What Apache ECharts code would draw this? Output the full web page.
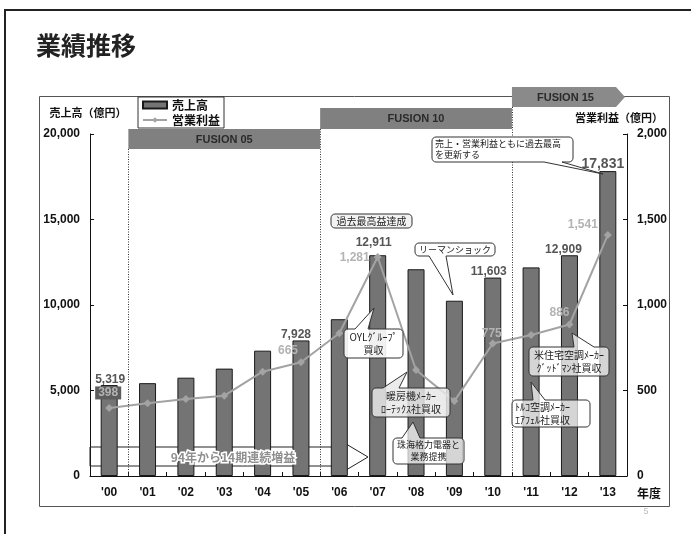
<!DOCTYPE html>
<html><head><meta charset="utf-8">
<script src="https://cdn.jsdelivr.net/npm/echarts@6/dist/echarts.min.js"></script>
<style>html,body{margin:0;padding:0;background:#fff}#c{width:691px;height:534px}</style>
</head><body><div id="c"></div>
<script>
// ---- data ----
const years = ["'00","'01","'02","'03","'04","'05","'06","'07","'08","'09","'10","'11","'12","'13"];
const sales = [5319, 5430, 5750, 6280, 7330, 7928, 9170, 12911, 12090, 10250, 11603, 12200, 12909, 17831];
const profit = [398, 425, 450, 470, 610, 665, 835, 1281, 620, 438, 775, 825, 886, 1410];
const salesLabels = ['5,319','','','','','7,928','','12,911','','','11,603','','12,909','17,831'];
const profitLabels = ['398','','','','','665','','1,281','','','775','','886','1,541'];
const leftAxisRange = [0, 20000, 5000];
const rightAxisRange = [0, 2000, 500];
const phases = [
  {name:'FUSION 05', from:1, to:6},
  {name:'FUSION 10', from:6, to:11},
  {name:'FUSION 15', from:11, to:14}
];

// ---- styles ----
const FONT = "'Liberation Sans','Noto Sans CJK JP',sans-serif";
const JFONT = "'Noto Sans CJK JP','Liberation Sans',sans-serif";
const salesLabelStyle = {0:[1,1,12],5:[-5,0,12],7:[-4,-7,12],10:[-4,0,12],12:[-6,0,12],13:[-5,0,14]};
const profitLabelStyle = {0:[-1,-15],5:[-13,-12],7:[-23,1],10:[-1,-10],12:[-10,-12],13:[-25,-10]};

const chart = echarts.init(document.getElementById('c'), null, {renderer:'canvas'});

const salesData = sales.map((v,i)=>{
  const s = salesLabelStyle[i];
  return {value:v, label: s ? {show:true, position:'top', distance:0, offset:[s[0],s[1]], fontSize:s[2],
    formatter: ()=>salesLabels[i]} : {show:false}};
});
const profitData = profit.map((v,i)=>{
  const s = profitLabelStyle[i];
  const lbl = s ? {show:true, position:'inside', offset:[s[0],s[1]], formatter: ()=>profitLabels[i]} : {show:false};
  if (i===0 && s) { lbl.backgroundColor = '#5c5c5c'; lbl.padding = [1,3,0,3]; }
  return {value:v, label: lbl};
});

const axisLab = {color:'#111', fontWeight:'bold', fontSize:12, fontFamily:FONT};

chart.setOption({
  animation:false,
  backgroundColor:'#fff',
  grid:{left:90, right:64, top:134, bottom:58},
  legend:{
    left:138, top:97, orient:'vertical', padding:[2,4,2,4], itemGap:3,
    itemWidth:24, itemHeight:7, borderColor:'#333', borderWidth:1, backgroundColor:'#fff',
    textStyle:{fontWeight:'bold', fontSize:12, color:'#111', fontFamily:JFONT},
    data:[{name:'売上高', icon:'rect'}, {name:'営業利益'}]
  },
  xAxis:{
    type:'category', data:years, boundaryGap:true,
    axisLine:{lineStyle:{color:'#111', width:1}},
    axisTick:{show:true, inside:true, length:4, lineStyle:{color:'#111'}},
    axisLabel:Object.assign({margin:11}, axisLab)
  },
  yAxis:[
    {type:'value', position:'left', min:leftAxisRange[0], max:leftAxisRange[1], interval:leftAxisRange[2],
     axisLine:{show:true, lineStyle:{color:'#111'}},
     axisTick:{show:true, inside:true, length:4, lineStyle:{color:'#111'}},
     splitLine:{show:false}, axisLabel:Object.assign({margin:10}, axisLab)},
    {type:'value', position:'right', min:rightAxisRange[0], max:rightAxisRange[1], interval:rightAxisRange[2],
     axisLine:{show:true, lineStyle:{color:'#111'}},
     axisTick:{show:true, inside:true, length:4, lineStyle:{color:'#111'}},
     splitLine:{show:false}, axisLabel:Object.assign({margin:10}, axisLab)}
  ],
  series:[
    {name:'売上高', type:'bar', data:salesData, barWidth:17, z:3,
     itemStyle:{color:'#747474', borderColor:'#1a1a1a', borderWidth:1},
     label:{color:'#555', fontWeight:'bold', fontFamily:FONT}},
    {name:'営業利益', type:'line', yAxisIndex:1, data:profitData, z:4,
     symbol:'diamond', symbolSize:8,
     lineStyle:{color:'#a3a3a3', width:2}, itemStyle:{color:'#a3a3a3'},
     label:{color:'#b3b3b3', fontWeight:'bold', fontSize:12, fontFamily:FONT}}
  ]
});

// ---- overlay graphics ----
const xc = i => chart.convertToPixel({xAxisIndex:0}, i);
const step = xc(1) - xc(0);
const bnd = i => xc(0) + (i - 0.5) * step;
const y0 = chart.convertToPixel({yAxisIndex:0}, 0);

function txt(text, x, y, font, fill, align, extra){
  return {type:'text', z:30, style:Object.assign({text, x, y, font, fill:fill||'#111',
    align:align||'center', verticalAlign:'middle', textAlign:align||'center', textVerticalAlign:'middle'}, extra||{})};
}
function arcPts(cx,cy,r,a0,a1){
  const pts=[]; const n=4;
  for(let k=0;k<=n;k++){const a=a0+(a1-a0)*k/n; pts.push([cx+r*Math.cos(a), cy+r*Math.sin(a)]);}
  return pts;
}
function calloutPoints(x,y,w,h,r,tail,side){
  const P=[]; const PI=Math.PI;
  P.push(...arcPts(x+r,y+r,r,PI,1.5*PI));
  if(side==='top'){ const [x1,x2,ax,ay]=tail; P.push([x1,y],[ax,ay],[x2,y]); }
  P.push(...arcPts(x+w-r,y+r,r,1.5*PI,2*PI));
  P.push(...arcPts(x+w-r,y+h-r,r,0,0.5*PI));
  if(side==='bottom'){ const [x1,x2,ax,ay]=tail; P.push([x2,y+h],[ax,ay],[x1,y+h]); }
  P.push(...arcPts(x+r,y+h-r,r,0.5*PI,PI));
  return P;
}
function callout(c){
  const els=[];
  els.push({type:'polygon', z:25, shape:{points:calloutPoints(c.x,c.y,c.w,c.h,4,c.tail,c.side)},
    style:{fill:c.fill||'rgba(255,255,255,0.75)', stroke:'#333', lineWidth:1}});
  const n=c.lines.length, lh=c.lh||12;
  c.lines.forEach((t,k)=>{
    const ty = c.y + c.h/2 + (k-(n-1)/2)*lh;
    const tx = c.align==='left' ? c.x+3 : c.x+c.w/2;
    els.push(txt(t, tx, ty, (c.size||9)+'px '+JFONT, '#222', c.align||'center'));
  });
  return els;
}

const G=[];
// outer slide frame
G.push({type:'line', z:1, shape:{x1:4,y1:10,x2:691,y2:10}, style:{stroke:'#222', lineWidth:2}});
G.push({type:'line', z:1, shape:{x1:5,y1:9,x2:5,y2:534}, style:{stroke:'#222', lineWidth:2}});
// inner chart frame
G.push({type:'rect', z:1, shape:{x:39.5,y:96.5,width:630,height:410}, style:{fill:null, stroke:'#555', lineWidth:1}});
// title
G.push(txt('業績推移', 36, 45, 'bold 25px '+JFONT, '#222', 'left'));
// axis titles
G.push(txt('売上高（億円）', 88, 113, 'bold 11px '+JFONT, '#111', 'center'));
G.push(txt('営業利益（億円）', 619, 118, 'bold 11px '+JFONT, '#111', 'center'));
G.push(txt('年度', 649, 493, 'bold 12px '+JFONT, '#111', 'center'));
G.push(txt('5', 646, 512, '9px '+FONT, '#bbb', 'center'));

// phase banners + dotted dividers
const bannerY = [[129,149],[108,129],[87,107]];
phases.forEach((ph,k)=>{
  const xa = bnd(ph.from), xb = Math.min(bnd(ph.to), xc(13)+step/2);
  const [ya,yb] = bannerY[k];
  if(k<2){
    G.push({type:'rect', z:20, shape:{x:xa,y:ya,width:xb-xa,height:yb-ya}, style:{fill:'#808080'}});
  } else {
    const tip = xb - 2, body = tip - 9;
    G.push({type:'polygon', z:20, shape:{points:[[xa,ya],[body,ya],[tip,(ya+yb)/2],[body,yb],[xa,yb]]}, style:{fill:'#8a8a8a'}});
  }
  G.push(txt(ph.name, (xa+(k<2?xb:xb-8))/2, (ya+yb)/2+0.5, 'bold 11px '+FONT, '#2a2a2a', 'center'));
  G.push({type:'line', z:5, shape:{x1:Math.round(xa)+0.5, y1:yb, x2:Math.round(xa)+0.5, y2:y0}, style:{stroke:'#333', lineWidth:1, lineDash:[1,1.5]}});
});

// 14-period growth arrow
const ax0 = xc(0) - step/2;
G.push({type:'polygon', z:1, shape:{points:[[ax0,447],[336,447],[336,438],[368,457],[336,476],[336,466],[ax0,466]]},
  style:{fill:null, stroke:'#222', lineWidth:1}});
G.push(txt('94年から14期連続増益', 233, 457, 'bold 12px '+JFONT, '#8f8f8f', 'center', {stroke:'#fff', lineWidth:3, strokeFirst:true}));

// callouts
const callouts = [
  {x:331,y:214,w:81,h:14,lines:['過去最高益達成'],size:10,fill:'#f2f2f2'},
  {x:415,y:243,w:80,h:13,lines:['リーマンショック'],tail:[429,446,453,295],side:'bottom',fill:'#fff'},
  {x:432,y:137,w:141,h:25,lines:['売上・営業利益ともに過去最高','を更新する'],align:'left',lh:11,tail:[544,562,603,174],side:'bottom',fill:'#fff'},
  {x:344,y:329,w:59,h:29,lines:['OYLｸﾞﾙｰﾌﾟ','買収'],size:10,lh:13,tail:[355,368,374,308],side:'top',fill:'rgba(255,255,255,0.9)'},
  {x:372,y:388,w:78,h:29,lines:['暖房機ﾒｰｶｰ','ﾛｰﾃｯｸｽ社買収'],size:10,lh:13,tail:[383,399,407,372],side:'top',fill:'rgba(232,232,232,0.85)'},
  {x:393,y:438,w:71,h:26,lines:['珠海格力電器と','業務提携'],lh:12,tail:[402,420,413,422],side:'top',fill:'rgba(255,255,255,0.7)'},
  {x:529,y:347,w:80,h:29,lines:['米住宅空調ﾒｰｶｰ','ｸﾞｯﾄﾞﾏﾝ社買収'],size:10,lh:13,tail:[574,594,572,333],side:'top',fill:'rgba(255,255,255,0.7)'},
  {x:512,y:400,w:78,h:27,lines:['ﾄﾙｺ空調ﾒｰｶｰ','ｴｱﾌｪﾙ社買収'],size:10,lh:13,align:'left',tail:[533,545,531,382],side:'top',fill:'rgba(255,255,255,0.7)'}
];
callouts.forEach(c=>G.push(...callout(c)));

chart.setOption({graphic:{elements:G}});
</script></body></html>
